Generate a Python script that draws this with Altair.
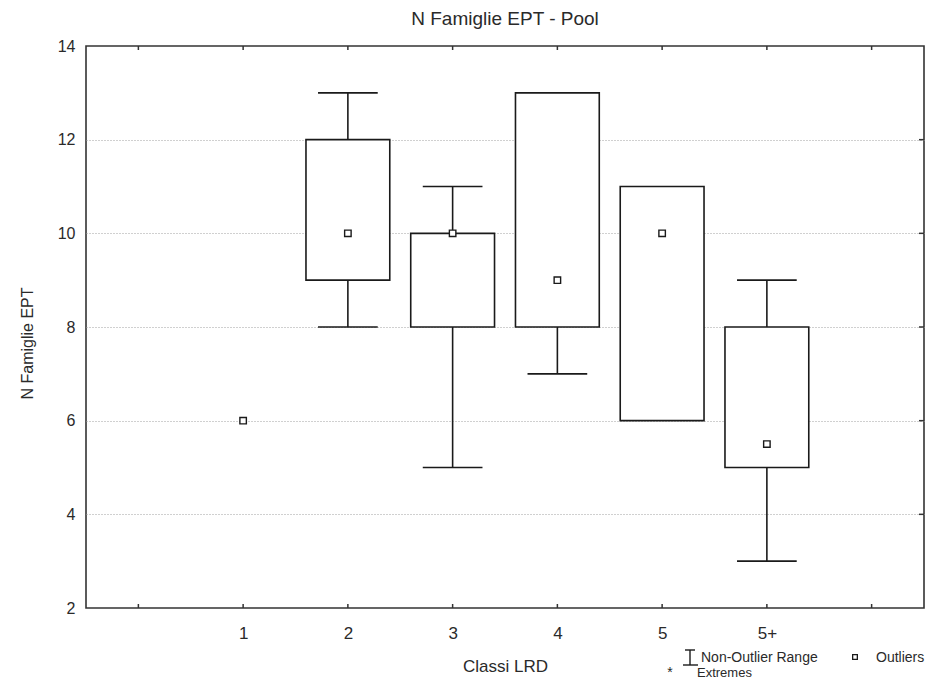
import altair as alt
import pandas as pd

categories = ["1", "2", "3", "4", "5", "5+"]
medians = [6, 10, 10, 9, 10, 5.5]
q1 = [6, 9, 8, 8, 6, 5]
q3 = [6, 12, 10, 13, 11, 8]
whisker_low = [6, 8, 5, 7, 6, 3]
whisker_high = [6, 13, 11, 13, 11, 9]
x_tick_positions = [0, 1, 2, 3, 4, 5, 6, 7]
y_tick_values = [2, 4, 6, 8, 10, 12, 14]
y_inner_ticks = [4, 6, 8, 10, 12]

df = pd.DataFrame({
    "cat": categories,
    "pos": list(range(1, len(categories) + 1)),
    "median": medians,
    "q1": q1,
    "q3": q3,
    "lo": whisker_low,
    "hi": whisker_high,
})
ticks_df = pd.DataFrame({"t": x_tick_positions})
yticks_df = pd.DataFrame({"v": y_inner_ticks})

FONT = "Liberation Sans"
TXT = "#2a2a2a"
W, H = 838, 562
BOX_HALF = 0.40
CAP_HALF = 0.285

xscale = alt.Scale(domain=[-0.5, 7.5], nice=False, zero=False)
yscale = alt.Scale(domain=[2, 14], nice=False, zero=False)

label_expr = "[" + ",".join(f"'{c}'" for c in categories) + "][datum.value - 1]"

x_axis = alt.Axis(
    values=list(range(1, len(categories) + 1)), labelExpr=label_expr,
    title="Classi LRD", ticks=False, domain=False, grid=False,
    labelFont=FONT, labelFontSize=17, labelColor=TXT, labelPadding=17,
    titleFont=FONT, titleFontSize=17, titleFontWeight="normal", titleColor=TXT,
    titlePadding=17,
)
y_axis = alt.Axis(
    values=y_tick_values, title="N Famiglie EPT", ticks=False, domain=False,
    grid=True, gridColor="#a0a0a0", gridDash=[1, 2], gridWidth=1,
    gridOpacity={"condition": {"test": "datum.value == 2 || datum.value == 14", "value": 0}, "value": 1},
    labelFont=FONT, labelFontSize=16, labelColor=TXT, labelPadding=11,
    titleFont=FONT, titleFontSize=16, titleFontWeight="normal", titleColor=TXT,
    titleX=-51, titleY=H / 2 + 16,
)


def X(f):
    return alt.X(f, scale=xscale, axis=x_axis)


def Y(f):
    return alt.Y(f, scale=yscale, axis=y_axis)


base = alt.Chart(df).transform_calculate(
    bx0=f"datum.pos - {BOX_HALF}", bx1=f"datum.pos + {BOX_HALF}",
    cx0=f"datum.pos - {CAP_HALF}", cx1=f"datum.pos + {CAP_HALF}",
)

SW = 1.6
INK = "#1a1a1a"

boxes = base.transform_filter("datum.q3 > datum.q1").mark_rect(
    fill="white", stroke=INK, strokeWidth=SW
).encode(x=X("bx0:Q"), x2="bx1:Q", y=Y("q1:Q"), y2="q3:Q")

low_whisk = base.transform_filter("datum.lo < datum.q1").mark_rule(
    color=INK, strokeWidth=SW
).encode(x=X("pos:Q"), y=Y("lo:Q"), y2="q1:Q")

high_whisk = base.transform_filter("datum.hi > datum.q3").mark_rule(
    color=INK, strokeWidth=SW
).encode(x=X("pos:Q"), y=Y("q3:Q"), y2="hi:Q")

low_cap = base.transform_filter("datum.lo < datum.q1").mark_rule(
    color=INK, strokeWidth=SW
).encode(x=X("cx0:Q"), x2="cx1:Q", y=Y("lo:Q"))

high_cap = base.transform_filter("datum.hi > datum.q3").mark_rule(
    color=INK, strokeWidth=SW
).encode(x=X("cx0:Q"), x2="cx1:Q", y=Y("hi:Q"))

med = base.mark_square(size=42, fill="white", stroke=INK, strokeWidth=1.4, opacity=1).encode(
    x=X("pos:Q"), y=Y("median:Q")
)

xticks_bottom = alt.Chart(ticks_df).mark_rule(color="#333333", strokeWidth=1.5).encode(
    x=X("t:Q"), y=alt.value(H - 4), y2=alt.value(H)
)
xticks_top = alt.Chart(ticks_df).mark_rule(color="#333333", strokeWidth=1.5).encode(
    x=X("t:Q"), y=alt.value(0), y2=alt.value(4)
)
yticks_right = alt.Chart(yticks_df).mark_rule(color="#333333", strokeWidth=1.5).encode(
    y=Y("v:Q"), x=alt.value(W - 5), x2=alt.value(W)
)

# legend (Statistica style), placed below the plot at bottom right
one = pd.DataFrame({"k": [0]})
leg = alt.Chart(one)
leg_v = leg.mark_rule(color=INK, strokeWidth=1.4).encode(x=alt.value(604), y=alt.value(604), y2=alt.value(619))
leg_top = leg.mark_rule(color=INK, strokeWidth=1.4).encode(x=alt.value(599), x2=alt.value(609), y=alt.value(604))
leg_bot = leg.mark_rule(color=INK, strokeWidth=1.4).encode(x=alt.value(597), x2=alt.value(612), y=alt.value(619))
leg_t1 = leg.mark_text(text="Non-Outlier Range", align="left", baseline="middle", font=FONT, fontSize=14, color=TXT).encode(
    x=alt.value(615), y=alt.value(612))
leg_sq = leg.mark_square(size=22, fill="white", stroke=INK, strokeWidth=1.3, opacity=1).encode(
    x=alt.value(769), y=alt.value(611))
leg_t2 = leg.mark_text(text="Outliers", align="left", baseline="middle", font=FONT, fontSize=14, color=TXT).encode(
    x=alt.value(790), y=alt.value(612))
leg_star = leg.mark_text(text="*", align="center", baseline="middle", font=FONT, fontSize=14, color=TXT).encode(
    x=alt.value(584), y=alt.value(627))
leg_t3 = leg.mark_text(text="Extremes", align="left", baseline="middle", font=FONT, fontSize=13, color=TXT).encode(
    x=alt.value(611), y=alt.value(627))

chart = alt.layer(
    boxes, low_whisk, high_whisk, low_cap, high_cap, med,
    xticks_bottom, xticks_top, yticks_right,
    leg_v, leg_top, leg_bot, leg_t1, leg_sq, leg_t2, leg_star, leg_t3,
).properties(
    width=W, height=H,
    background="white",
    title=alt.TitleParams("N Famiglie EPT  - Pool", font=FONT, fontSize=19, fontWeight="normal",
                          color=TXT, anchor="middle", offset=9),
    autosize=alt.AutoSizeParams(type="none"),
    padding={"left": 78, "top": 38, "right": 2, "bottom": 73},
).configure_view(stroke="#333333", strokeWidth=1.6, fill="white")

chart.save("out.html", embed_options={"renderer": "svg", "actions": False})
